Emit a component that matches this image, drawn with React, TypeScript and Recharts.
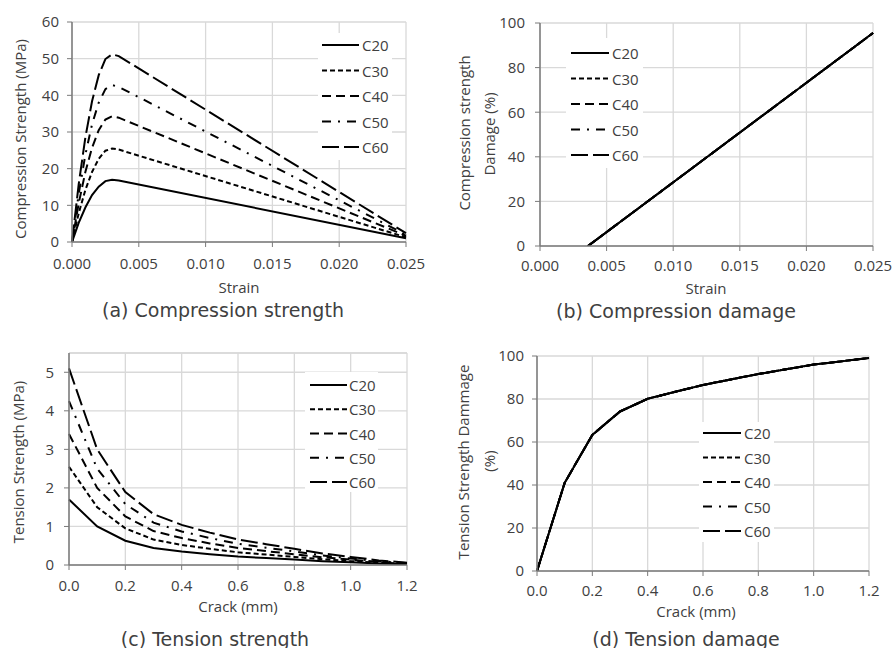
import React from 'react';
import { LineChart, Line, XAxis, YAxis, CartesianGrid, Legend, ReferenceLine } from 'recharts';

const grades = ['C20', 'C30', 'C40', 'C50', 'C60'];
const dashes = ['', '5 3', '9 5', '9 7 2 7', '17 5'];

// (a) compression stress-strain
const strainA = [0, 0.0005, 0.001, 0.0015, 0.002, 0.0025, 0.003, 0.0035, 0.025];
const compC20 = [0, 5.2, 9.4, 12.8, 15.1, 16.6, 17.0, 16.8, 1.0];
const compC30 = [0, 7.8, 14.2, 19.1, 22.7, 24.9, 25.5, 25.2, 1.3];
const compC40 = [0, 10.5, 19.1, 25.7, 30.5, 33.4, 34.3, 33.9, 1.7];
const compC50 = [0, 13.1, 23.8, 32.1, 38.0, 41.7, 42.8, 42.3, 2.0];
const compC60 = [0, 15.7, 28.5, 38.4, 45.5, 49.9, 51.2, 50.7, 2.4];

// (b) compression damage (all grades overlap)
const strainB = [0.0036, 0.025];
const compDamage = [0, 95.5];

// (c) tension softening
const crack = [0, 0.1, 0.2, 0.3, 0.4, 0.5, 0.6, 0.7, 0.8, 0.9, 1.0, 1.1, 1.2];
const tenC20 = [1.70, 1.00, 0.63, 0.44, 0.35, 0.28, 0.22, 0.18, 0.14, 0.10, 0.07, 0.04, 0.02];
const tenC30 = [2.55, 1.50, 0.95, 0.66, 0.52, 0.42, 0.33, 0.27, 0.21, 0.15, 0.10, 0.06, 0.03];
const tenC40 = [3.40, 2.00, 1.26, 0.88, 0.70, 0.56, 0.44, 0.36, 0.28, 0.20, 0.14, 0.08, 0.04];
const tenC50 = [4.25, 2.50, 1.58, 1.10, 0.87, 0.70, 0.55, 0.45, 0.35, 0.25, 0.17, 0.10, 0.05];
const tenC60 = [5.10, 3.00, 1.89, 1.32, 1.04, 0.84, 0.66, 0.54, 0.42, 0.30, 0.21, 0.12, 0.06];

// (d) tension damage (all grades overlap)
const tenDamage = [0, 41, 63.3, 74.2, 80.1, 83.4, 86.5, 89.1, 91.6, 93.8, 96.0, 97.5, 99.1];

const strainTicks = [0, 0.005, 0.01, 0.015, 0.02, 0.025];
const crackTicks = [0, 0.2, 0.4, 0.6, 0.8, 1.0, 1.2];

const compData = strainA.map((s, i) => ({
  x: s, C20: compC20[i], C30: compC30[i], C40: compC40[i], C50: compC50[i], C60: compC60[i],
}));
const compDmgData = strainB.map((s, i) => ({
  x: s, C20: compDamage[i], C30: compDamage[i], C40: compDamage[i], C50: compDamage[i], C60: compDamage[i],
}));
const tenData = crack.map((c, i) => ({
  x: c, C20: tenC20[i], C30: tenC30[i], C40: tenC40[i], C50: tenC50[i], C60: tenC60[i],
}));
const tenDmgData = crack.map((c, i) => ({
  x: c, C20: tenDamage[i], C30: tenDamage[i], C40: tenDamage[i], C50: tenDamage[i], C60: tenDamage[i],
}));

const FONT = '"Open Sans", sans-serif';
const CAP_FONT = '"DejaVu Sans", sans-serif';
const TEXT = '#404040';
const AXIS = '#7a7a7a';
const GRID = '#d9d9d9';

type Lg = { x: number; y: number; w: number; h: number; l0: number; l1: number; tx: number; r0: number; gap: number };

function LegendBox({ lg }: { lg: Lg }) {
  return (
    <svg width={lg.w} height={lg.h} style={{ display: 'block' }}>
      <rect x={0} y={0} width={lg.w} height={lg.h} fill="#fff" />
      {grades.map((g, i) => {
        const cy = lg.r0 + i * lg.gap;
        return (
          <g key={g}>
            <line x1={lg.l0} x2={lg.l1} y1={cy} y2={cy} stroke="#000" strokeWidth={2} strokeDasharray={dashes[i]} />
            <text x={lg.tx} y={cy} dominantBaseline="central" fontFamily={FONT} fontSize={15} fill={TEXT}>{g}</text>
          </g>
        );
      })}
    </svg>
  );
}

function Txt({ x, y, size = 15, rotate = false, family = FONT, children }: any) {
  return (
    <div style={{
      position: 'absolute', left: x, top: y, whiteSpace: 'nowrap', lineHeight: 1,
      fontFamily: family, fontSize: size, color: TEXT,
      transform: `translate(-50%, -50%)${rotate ? ' rotate(-90deg)' : ''}`,
    }}>{children}</div>
  );
}

function Panel({ left, top, data, xDomain, xTicks, xFmt, yDomain, yTicks, margin, xTm, yTm, lg, topLine }: any) {
  return (
    <div style={{ position: 'absolute', left, top }}>
      <LineChart width={446} height={324} data={data} margin={margin}>
        <CartesianGrid stroke={GRID} strokeWidth={1.3} />
        {topLine !== undefined && <ReferenceLine y={topLine} stroke={GRID} strokeWidth={1.3} />}
        <XAxis type="number" dataKey="x" domain={xDomain} ticks={xTicks} tickFormatter={xFmt} height={30}
          tick={{ fontSize: 15, fill: TEXT, fontFamily: FONT }} tickSize={5} tickMargin={xTm}
          axisLine={{ stroke: AXIS, strokeWidth: 1.5 }} tickLine={{ stroke: AXIS }} interval={0} />
        <YAxis type="number" domain={yDomain} ticks={yTicks} width={50} allowDataOverflow
          tick={{ fontSize: 15, fill: TEXT, fontFamily: FONT }} tickSize={5} tickMargin={yTm}
          axisLine={{ stroke: AXIS, strokeWidth: 1.5 }} tickLine={{ stroke: AXIS }} interval={0} />
        <Legend layout="vertical" align="center" verticalAlign="middle"
          wrapperStyle={{ left: lg.x, top: lg.y, width: lg.w, height: lg.h }}
          content={() => <LegendBox lg={lg} />} />
        {grades.map((g, i) => (
          <Line key={g} type="linear" dataKey={g} stroke="#000" strokeWidth={2} dot={false}
            strokeDasharray={dashes[i]} isAnimationActive={false} />
        ))}
      </LineChart>
    </div>
  );
}

export default function App() {
  return (
    <div style={{ position: 'absolute', left: 0, top: 0, width: 892, height: 648, background: '#fff', overflow: 'hidden' }}>
      <Panel left={0} top={0} data={compData} xDomain={[0, 0.025]} xTicks={strainTicks}
        xFmt={(v: number) => v.toFixed(3)} yDomain={[0, 60]} yTicks={[0, 10, 20, 30, 40, 50, 60]}
        margin={{ top: 22, right: 40, bottom: 52, left: 22 }} xTm={11} yTm={8}
        lg={{ x: 318, y: 33, w: 74, h: 127, l0: 4, l1: 41, tx: 44, r0: 12, gap: 25.5 }} />
      <Panel left={446} top={0} data={compDmgData} xDomain={[0, 0.025]} xTicks={strainTicks}
        xFmt={(v: number) => v.toFixed(3)} yDomain={[0, 100]} yTicks={[0, 20, 40, 60, 80, 100]}
        margin={{ top: 23, right: 19, bottom: 48, left: 44 }} xTm={9} yTm={10}
        lg={{ x: 120, y: 38, w: 77, h: 130, l0: 5, l1: 43, tx: 46, r0: 15, gap: 25.5 }} />
      <Panel left={0} top={324} data={tenData} xDomain={[0, 1.2]} xTicks={crackTicks}
        xFmt={(v: number) => v.toFixed(1)} yDomain={[0, 5.5]} yTicks={[0, 1, 2, 3, 4, 5]} topLine={5.5}
        margin={{ top: 29, right: 39, bottom: 53, left: 19 }} xTm={10} yTm={10}
        lg={{ x: 305, y: 48, w: 73, h: 120, l0: 5, l1: 42, tx: 44, r0: 13, gap: 24.25 }} />
      <Panel left={446} top={324} data={tenDmgData} xDomain={[0, 1.2]} xTicks={crackTicks}
        xFmt={(v: number) => v.toFixed(1)} yDomain={[0, 100]} yTicks={[0, 20, 40, 60, 80, 100]}
        margin={{ top: 32, right: 23, bottom: 47, left: 41 }} xTm={9} yTm={8}
        lg={{ x: 253, y: 98, w: 75, h: 120, l0: 4, l1: 42, tx: 45, r0: 11, gap: 24.5 }} />

      <Txt x={20} y={139} rotate>Compression Strength (MPa)</Txt>
      <Txt x={239} y={287}>Strain</Txt>
      <Txt x={223} y={310} size={19} family={CAP_FONT}>(a) Compression strength</Txt>

      <Txt x={464} y={133} rotate>Compression strength</Txt>
      <Txt x={489} y={134} rotate>Damage (%)</Txt>
      <Txt x={706} y={288}>Strain</Txt>
      <Txt x={676} y={311} size={19} family={CAP_FONT}>(b) Compression damage</Txt>

      <Txt x={18} y={462} rotate>Tension Strength (MPa)</Txt>
      <Txt x={238} y={606}>Crack (mm)</Txt>
      <Txt x={215} y={639} size={19} family={CAP_FONT}>(c) Tension strength</Txt>

      <Txt x={463} y={462} rotate>Tension Strength Dammage</Txt>
      <Txt x={489} y={461} rotate>(%)</Txt>
      <Txt x={696} y={611}>Crack (mm)</Txt>
      <Txt x={686} y={639} size={19} family={CAP_FONT}>(d) Tension damage</Txt>
    </div>
  );
}
